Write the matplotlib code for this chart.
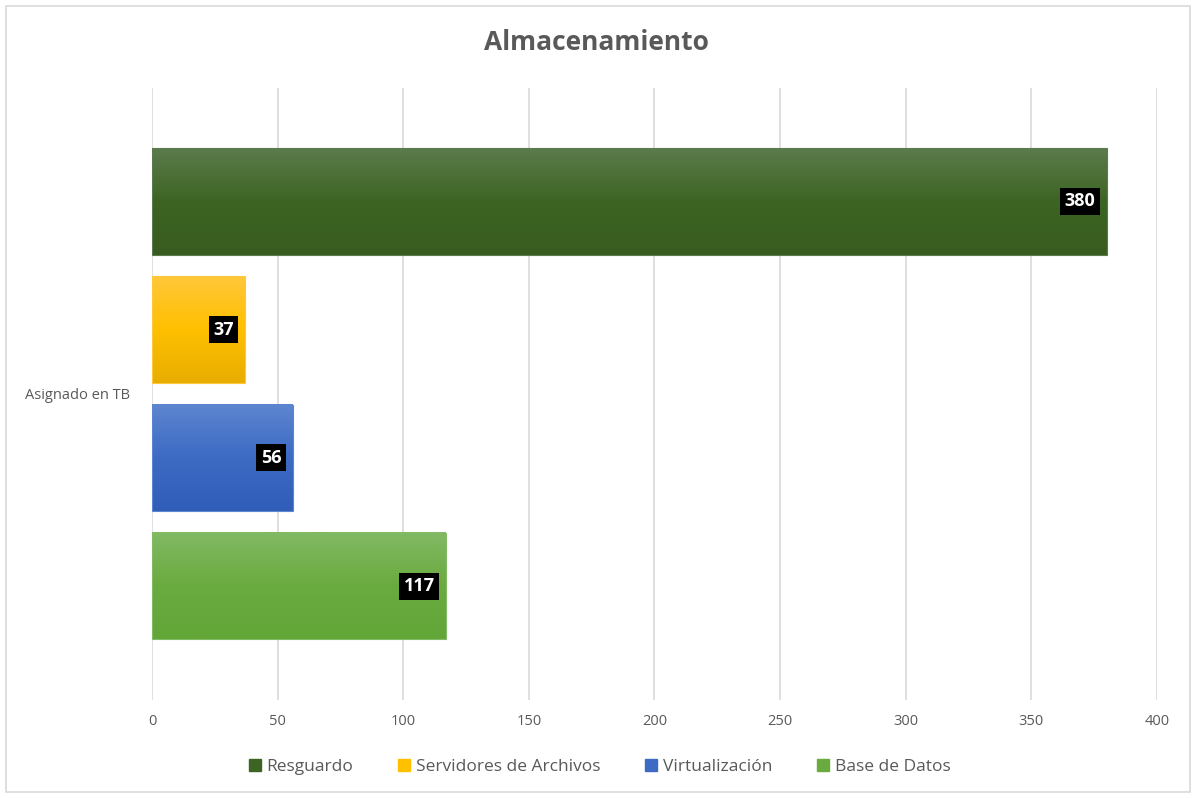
import numpy as np
import matplotlib.pyplot as plt
from matplotlib.colors import LinearSegmentedColormap
from matplotlib.patches import Rectangle

# Data
category = 'Asignado en TB'
series = ['Resguardo', 'Servidores de Archivos', 'Virtualización', 'Base de Datos']
values = [380, 37, 56, 117]
# top / bottom colours of each bar gradient
top_colors = ['#5b7b4c', '#ffc73a', '#5d85cf', '#82b964']
base_colors = ['#3d6423', '#ffc000', '#3d6bc4', '#6aab3f']
bottom_colors = ['#385c1f', '#e8ad00', '#2f5db8', '#63a638']

plt.rcParams['font.family'] = ['Open Sans', 'DejaVu Sans']

fig = plt.figure(figsize=(11.92, 7.98), dpi=100)
ax = fig.add_axes([0.1275, 0.1228, 0.8431, 0.7669])

# outer chart border
fig.patches.append(Rectangle((6 / 1192, 6 / 798), 1184 / 1192, 786 / 798,
                             transform=fig.transFigure, fill=False,
                             edgecolor='#d9d9d9', linewidth=1.2))

bar_h = 0.83
ypos = [3, 2, 1, 0]
grad = np.linspace(0, 1, 100).reshape(-1, 1)
for i, (name, v) in enumerate(zip(series, values)):
    y = ypos[i]
    cmap = LinearSegmentedColormap.from_list(name, [bottom_colors[i], base_colors[i], top_colors[i]])
    ax.imshow(grad, extent=(0, v, y - bar_h / 2, y + bar_h / 2), origin='lower',
              cmap=cmap, aspect='auto', zorder=2)
    ax.barh(y, v, height=bar_h, color=base_colors[i], alpha=0, label=name)
    ax.add_patch(Rectangle((0, y - bar_h / 2), v, bar_h, fill=False,
                           edgecolor=top_colors[i], linewidth=0.8, zorder=3))
    ax.annotate(str(v), xy=(v, y), xytext=(-8, 0), textcoords='offset points',
                ha='right', va='center', color='white', fontsize=13, fontweight='bold',
                bbox=dict(boxstyle='square,pad=0.25', facecolor='black', edgecolor='none'),
                zorder=5)

ax.set_xlim(0, 400)
ax.set_ylim(-0.887, 3.883)
ax.set_xticks(range(0, 401, 50))
ax.set_yticks([1.5])
ax.set_yticklabels([category])
ax.grid(axis='x', color='#d9d9d9', linewidth=1.2, zorder=0)
ax.set_axisbelow(True)
for s in ax.spines.values():
    s.set_visible(False)
ax.tick_params(axis='x', colors='#595959', labelsize=10.5, length=0, pad=10)
ax.tick_params(axis='y', colors='#595959', labelsize=10.5, length=0, pad=16)

fig.text(0.5, 0.947, 'Almacenamiento', ha='center', va='center',
         fontsize=19, fontweight='bold', color='#595959')

handles = [Rectangle((0, 0), 1, 1, color=c) for c in base_colors]
fig.legend(handles, series, loc='center', bbox_to_anchor=(0.503, 0.039), ncol=4,
           frameon=False, fontsize=12.5, labelcolor='#595959', handlelength=0.7,
           handleheight=0.7, handletextpad=0.3, columnspacing=2.6)

fig.savefig('out.png', dpi=100)
